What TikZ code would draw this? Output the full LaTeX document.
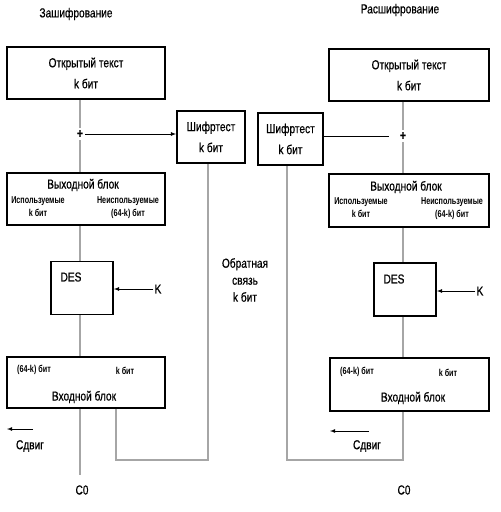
\documentclass[tikz,border=0pt]{standalone}
\usepackage{fontspec}
\setmainfont[FakeStretch=0.78, FakeBold=0.6]{Liberation Sans}
\newfontfamily\smallfont[FakeStretch=0.72]{Liberation Sans}
\usetikzlibrary{calc}
\begin{document}
\begin{tikzpicture}[x=1pt, y=-1pt]
            \tikzset{block/.style={draw, line width=1.8pt, inner sep=0pt, align=center, font=\fontsize{13}{21}\selectfont}}
            \tikzset{wire/.style={gray!70, line width=1.3pt}}
            \tikzset{link/.style={black, line width=0.8pt}}
            \tikzset{lbl/.style={inner sep=1pt, font=\fontsize{13}{17}\selectfont, align=center}}
            \tikzset{sub/.style={inner sep=0pt, font=\smallfont\bfseries\fontsize{10}{13}\selectfont, align=center}}
            \useasboundingbox (0, 0) rectangle (501, 512);
            % encryption
            \node[lbl] (titleL) at (76, 14) {Зашифрование};
            \node[block, minimum width=158, minimum height=52] (ptL) at (86, 73) {Открытый текст\\k бит};
            \node[block, minimum width=68, minimum height=52] (ctL) at (211, 137) {Шифртест\\k бит};
            \node[inner sep=2pt, font=\bfseries\fontsize{13}{13}\selectfont] (plusL) at (80, 134) {+};
            \node[block, minimum width=158, minimum height=52] (outL) at (86, 199) {};
            \node[lbl] (outLt) at (83, 185) {Выходной блок};
            \node[sub] (outLa) at (38, 207) {Используемые\\k бит};
            \node[sub] (outLb) at (128, 208) {Неиспользуемые\\(64-k) бит};
            \node[block, minimum width=62, minimum height=53] (desL) at (82, 288) {};
            \node[lbl] (desLt) at (71, 277) {DES};
            \node[lbl] (keyL) at (158, 289) {K};
            \node[block, minimum width=158, minimum height=51] (inL) at (86, 382.5) {};
            \node[sub] (inLa) at (34, 370) {(64-k) бит};
            \node[sub] (inLb) at (125, 371) {k бит};
            \node[lbl] (inLt) at (84, 397) {Входной блок};
            \node[lbl] (shiftL) at (30, 446) {Сдвиг};
            \node[lbl] (c0L) at (82, 490) {C0};
            \node[lbl] (fbText) at (245, 280) {Обратная\\связь\\k бит};
            \coordinate (shiftL1) at (33, 429);
            \coordinate (shiftL2) at (7, 429);
            \coordinate (fbL1) at (116, 460);
            \coordinate (fbL2) at (208, 460);
            \draw[wire] (ptL.south -| plusL) -- (plusL.north);
            \draw[wire] (plusL.south) -- (outL.north -| plusL);
            \draw[wire] (outL.south -| plusL) -- (desL.north -| plusL);
            \draw[wire] (desL.south -| plusL) -- (inL.north -| plusL);
            \draw[wire, shorten >=9pt] (inL.south -| plusL) -- (c0L.north -| plusL);
            \draw[link, ->, >=latex] (plusL.east) -- (ctL.west |- plusL);
            \draw[link, ->, >=latex] (keyL.west) -- (desL.east |- keyL);
            \draw[link, ->, >=latex] (shiftL1) -- (shiftL2);
            \draw[wire] (inL.south -| fbL1) -- (fbL1) -- (fbL2) -- (ctL.south -| fbL2);
            % decryption
            \node[lbl] (titleR) at (400, 10) {Расшифрование};
            \node[block, minimum width=160, minimum height=52] (ptR) at (409, 75) {Открытый текст\\k бит};
            \node[block, minimum width=65, minimum height=52] (ctR) at (290.5, 139) {Шифртест\\k бит};
            \node[inner sep=2pt, font=\bfseries\fontsize{13}{13}\selectfont] (plusR) at (403, 136) {+};
            \node[block, minimum width=160, minimum height=53] (outR) at (409, 200.5) {};
            \node[lbl] (outRt) at (406, 187) {Выходной блок};
            \node[sub] (outRa) at (361, 208) {Используемые\\k бит};
            \node[sub] (outRb) at (452, 209) {Неиспользуемые\\(64-k) бит};
            \node[block, minimum width=62, minimum height=53] (desR) at (405, 289.5) {};
            \node[lbl] (desRt) at (394, 279) {DES};
            \node[lbl] (keyR) at (480, 291) {K};
            \node[block, minimum width=159, minimum height=53] (inR) at (409.5, 384.5) {};
            \node[sub] (inRa) at (357, 372) {(64-k) бит};
            \node[sub] (inRb) at (448, 373) {k бит};
            \node[lbl] (inRt) at (413, 398) {Входной блок};
            \node[lbl] (shiftR) at (367, 446) {Сдвиг};
            \node[lbl] (c0R) at (404, 490) {C0};
            \coordinate (shiftR1) at (369, 431);
            \coordinate (shiftR2) at (330, 431);
            \coordinate (fbR1) at (403, 460);
            \coordinate (fbR2) at (287, 460);
            \draw[wire] (ptR.south -| plusR) -- (plusR.north);
            \draw[wire] (plusR.south) -- (outR.north -| plusR);
            \draw[wire] (outR.south -| plusR) -- (desR.north -| plusR);
            \draw[wire] (desR.south -| plusR) -- (inR.north -| plusR);
            \draw[wire] (inR.south -| fbR1) -- (fbR1) -- (fbR2) -- (ctR.south -| fbR2);
            \draw[link, shorten >=9pt] (ctR.east |- plusR) -- (plusR.west);
            \draw[link, ->, >=latex] (keyR.west) -- (desR.east |- keyR);
            \draw[link, ->, >=latex] (shiftR1) -- (shiftR2);
\end{tikzpicture}
\end{document}
